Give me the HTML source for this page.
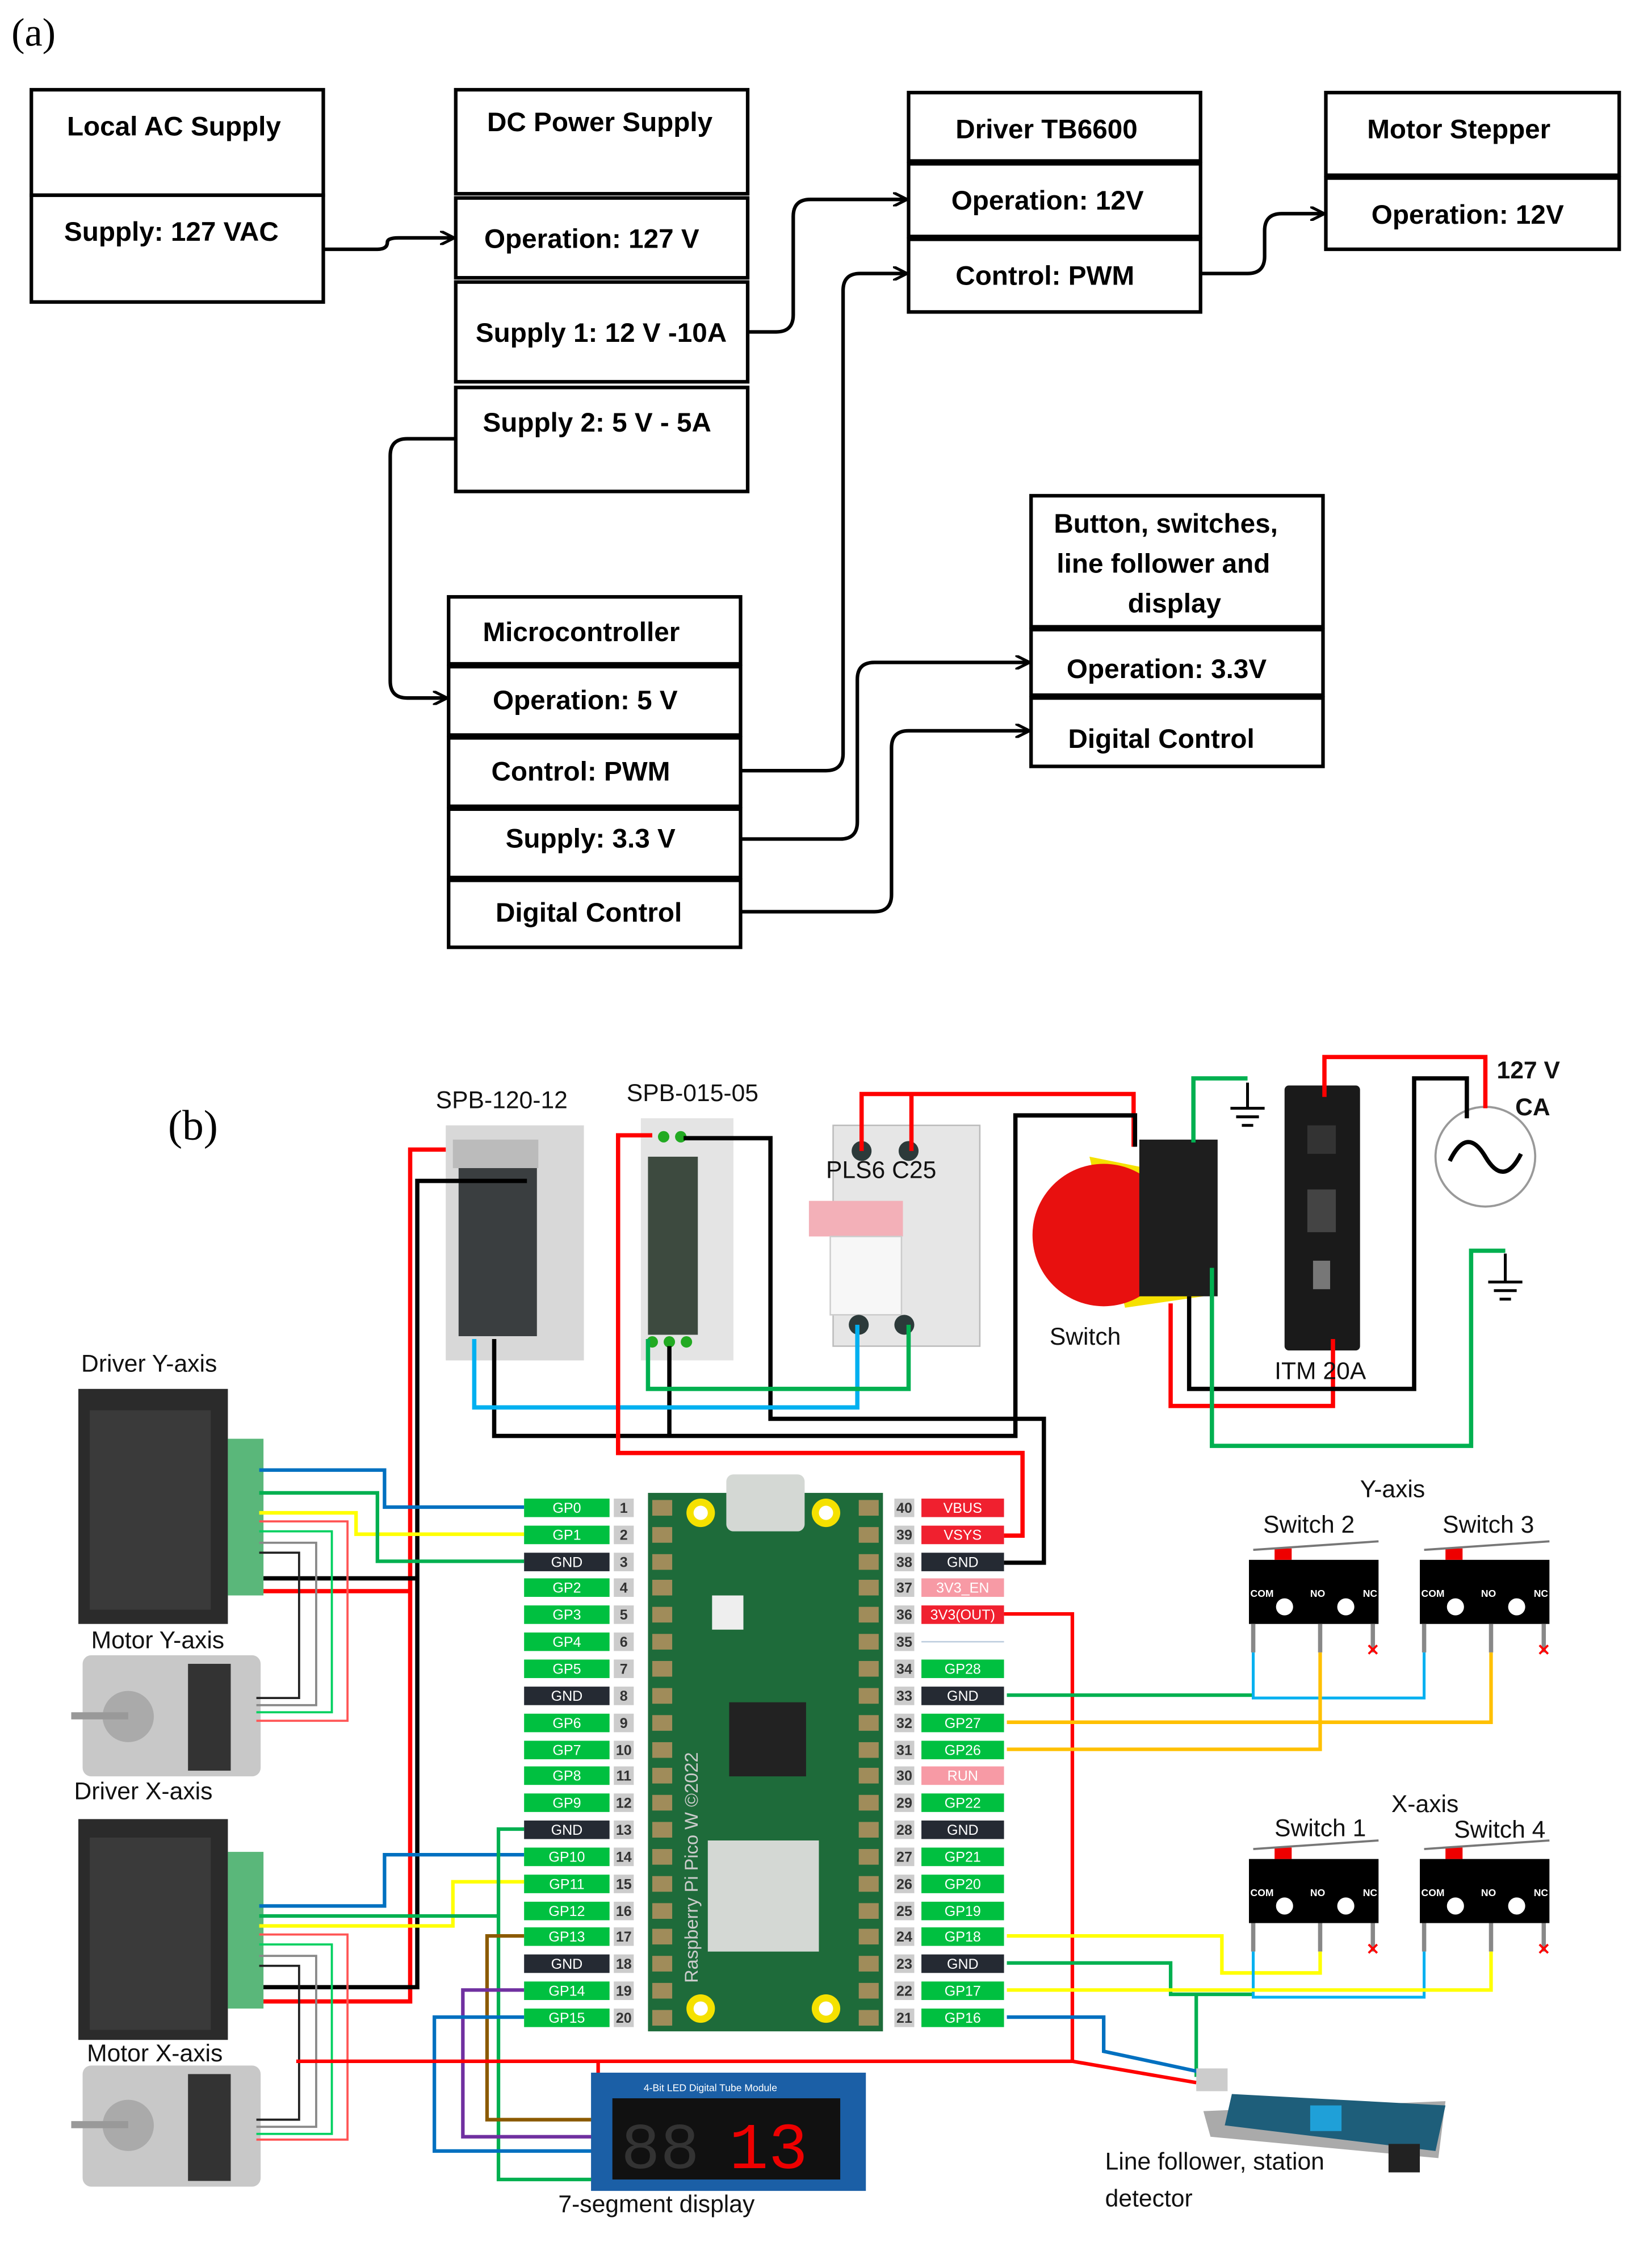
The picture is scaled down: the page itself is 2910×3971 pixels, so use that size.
<!DOCTYPE html>
<html><head><meta charset="utf-8"><style>
html,body{margin:0;padding:0;background:#fff}
svg{display:block}
.b{font-family:"Liberation Sans",sans-serif;font-weight:bold;font-size:19px;fill:#000}
.l{font-family:"Liberation Sans",sans-serif;font-size:17px;fill:#111}
.p{font-family:"Liberation Sans",sans-serif;font-size:10px;fill:#fff;text-anchor:middle}
.n{font-family:"Liberation Sans",sans-serif;font-size:10px;font-weight:bold;fill:#333;text-anchor:middle}
</style></head><body>
<svg width="2910" height="3971" viewBox="0 0 1160 1583" xmlns="http://www.w3.org/2000/svg">
<defs>
<marker id="ar" markerWidth="10" markerHeight="10" refX="9" refY="5" orient="auto" markerUnits="userSpaceOnUse"><path d="M0,0 L10,5 L0,10" fill="none" stroke="#000" stroke-width="2"/></marker>
</defs>
<text x="8" y="32" font-family="Liberation Serif,serif" font-size="28">(a)</text>
<g fill="none" stroke="#000" stroke-width="2.5">
<rect x="22" y="63" width="205" height="74"/><rect x="22" y="137" width="205" height="75"/>
<rect x="320" y="63" width="205" height="73"/><rect x="320" y="139" width="205" height="56"/><rect x="320" y="198" width="205" height="70"/><rect x="320" y="272" width="205" height="73"/>
<rect x="638" y="65" width="205" height="48"/><rect x="638" y="115" width="205" height="51"/><rect x="638" y="168" width="205" height="51"/>
<rect x="931" y="65" width="206" height="58"/><rect x="931" y="125" width="206" height="50"/>
<rect x="724" y="348" width="205" height="92"/><rect x="724" y="442" width="205" height="46"/><rect x="724" y="490" width="205" height="48"/>
<rect x="315" y="419" width="205" height="47"/><rect x="315" y="468" width="205" height="48"/><rect x="315" y="518" width="205" height="48"/><rect x="315" y="568" width="205" height="48"/><rect x="315" y="618" width="205" height="47"/>
</g>
<g fill="none" stroke="#000" stroke-width="2.5" marker-end="url(#ar)">
<path d="M227,175 L265,175 Q272,175 272,170 Q272,167 280,167 L318,167"/>
<path d="M525,233 L545,233 Q557,233 557,221 L557,152 Q557,140 569,140 L636,140"/>
<path d="M520,541 L580,541 Q592,541 592,529 L592,204 Q592,192 604,192 L636,192"/>
<path d="M843,192 L876,192 Q888,192 888,180 L888,162 Q888,150 900,150 L929,150"/>
<path d="M320,308 L286,308 Q274,308 274,320 L274,478 Q274,490 286,490 L313,490"/>
<path d="M520,589 L590,589 Q602,589 602,577 L602,477 Q602,465 614,465 L722,465"/>
<path d="M520,640 L614,640 Q626,640 626,628 L626,525 Q626,513 638,513 L722,513"/>
</g>
<g class="b">
<text x="47" y="95">Local AC Supply</text><text x="45" y="169">Supply: 127 VAC</text>
<text x="342" y="92">DC Power Supply</text><text x="340" y="174">Operation: 127 V</text><text x="334" y="240">Supply 1: 12 V -10A</text><text x="339" y="303">Supply 2: 5 V - 5A</text>
<text x="671" y="97">Driver TB6600</text><text x="668" y="147">Operation: 12V</text><text x="671" y="200">Control: PWM</text>
<text x="960" y="97">Motor Stepper</text><text x="963" y="157">Operation: 12V</text>
<text x="740" y="374">Button, switches,</text><text x="742" y="402">line follower and</text><text x="792" y="430">display</text>
<text x="749" y="476">Operation: 3.3V</text><text x="750" y="525">Digital Control</text>
<text x="339" y="450">Microcontroller</text><text x="346" y="498">Operation: 5 V</text><text x="345" y="548">Control: PWM</text><text x="355" y="595">Supply: 3.3 V</text><text x="348" y="647">Digital Control</text>
</g>

<!-- PART B -->
<text x="118" y="800" font-family="Liberation Serif,serif" font-size="30">(b)</text>

<!-- power supplies -->
<rect x="313" y="790" width="97" height="165" fill="#d8d8d8"/><rect x="322" y="818" width="55" height="120" fill="#3a3e40"/><rect x="318" y="800" width="60" height="20" fill="#bbb"/>
<rect x="450" y="785" width="65" height="170" fill="#e4e4e4"/><rect x="455" y="812" width="35" height="125" fill="#3d4a3f"/>
<circle cx="466" cy="798" r="4" fill="#2a2" /><circle cx="478" cy="798" r="4" fill="#2a2"/>
<circle cx="458" cy="942" r="4" fill="#2a2"/><circle cx="470" cy="942" r="4" fill="#2a2"/><circle cx="482" cy="942" r="4" fill="#2a2"/>
<!-- PLS6 -->
<rect x="585" y="790" width="103" height="155" fill="#e6e6e6" stroke="#bbb"/>
<rect x="568" y="843" width="66" height="25" fill="#f3b0b8"/><rect x="583" y="868" width="50" height="55" fill="#f7f7f7" stroke="#ccc"/>
<circle cx="605" cy="808" r="7" fill="#2c3a3a"/><circle cx="638" cy="808" r="7" fill="#2c3a3a"/><circle cx="603" cy="930" r="7" fill="#2c3a3a"/><circle cx="635" cy="930" r="7" fill="#2c3a3a"/>
<!-- rotary switch -->
<path d="M765,812 L830,825 L845,910 L790,918 Z" fill="#f5e100"/>
<circle cx="775" cy="867" r="50" fill="#e8100f"/>
<rect x="800" y="800" width="55" height="110" fill="#1e1e1e"/>
<!-- ITM -->
<rect x="902" y="762" width="53" height="186" fill="#1a1a1a" rx="3"/><rect x="918" y="790" width="20" height="20" fill="#333"/><rect x="918" y="835" width="20" height="30" fill="#444"/>
<rect x="922" y="885" width="12" height="20" fill="#777"/>
<!-- AC source -->
<circle cx="1043" cy="812" r="35" fill="#fff" stroke="#999" stroke-width="1.5"/>
<path d="M1018,815 Q1030,790 1043,812 Q1056,834 1068,810" fill="none" stroke="#000" stroke-width="3"/>
<g stroke="#000" stroke-width="2">
<path d="M876,760 L876,778 M864,778 L888,778 M868,784 L884,784 M872,790 L880,790"/>
<path d="M1057,880 L1057,900 M1045,900 L1069,900 M1049,906 L1065,906 M1053,912 L1061,912"/>
</g>
<!-- top wires -->
<g fill="none" stroke-width="3">
<path stroke="#f00" d="M313,807 L288,807 L288,1405 L182,1405"/>
<path stroke="#f00" d="M288,1117 L182,1117"/>
<path stroke="#000" d="M370,829 L293,829 L293,1395 L182,1395"/>
<path stroke="#000" d="M293,1108 L182,1108"/>
<path stroke="#f00" d="M605,808 L605,768 L796,768 L796,805 M640,808 L640,768"/>
<path stroke="#000" d="M347,940 L347,1008 L713,1008 L713,783 L797,783 L797,805 M470,945 L470,1008"/>
<path stroke="#000" d="M480,799 L541,799 L541,996 L733,996 L733,1097 L705,1097"/>
<path stroke="#00b0f0" d="M333,940 L333,988 L602,988 L602,930"/>
<path stroke="#00b050" d="M455,940 L455,975 L638,975 L638,930"/>
<path stroke="#f00" d="M458,797 L434,797 L434,1020 L718,1020 L718,1078 L705,1078"/>
<path stroke="#f00" d="M822,915 L822,987 L936,987 L936,940"/>
<path stroke="#000" d="M835,910 L835,975 L993,975 L993,757 L1030,757 L1030,785"/>
<path stroke="#00b050" d="M851,890 L851,1015 L1033,1015 L1033,878 L1057,878"/>
<path stroke="#00b050" d="M838,802 L838,757 L876,757"/>
<path stroke="#f00" d="M930,770 L930,742 L1043,742 L1043,778"/>
</g>

<!-- drivers -->
<g>
<rect x="55" y="975" width="105" height="165" fill="#2b2b2b"/><rect x="63" y="990" width="85" height="140" fill="#3a3a3a"/>
<rect x="160" y="1010" width="25" height="110" fill="#5ab77a"/>
<rect x="55" y="1277" width="105" height="155" fill="#2b2b2b"/><rect x="63" y="1290" width="85" height="135" fill="#3a3a3a"/>
<rect x="160" y="1300" width="25" height="110" fill="#5ab77a"/>
<rect x="58" y="1162" width="125" height="85" fill="#c8c8c8" rx="6"/><rect x="132" y="1168" width="30" height="75" fill="#333"/><circle cx="90" cy="1205" r="18" fill="#aaa"/><rect x="50" y="1202" width="40" height="5" fill="#999"/>
<rect x="58" y="1450" width="125" height="85" fill="#c8c8c8" rx="6"/><rect x="132" y="1456" width="30" height="75" fill="#333"/><circle cx="90" cy="1492" r="18" fill="#aaa"/><rect x="50" y="1489" width="40" height="5" fill="#999"/>
</g>
<!-- driver & motor wires -->
<g fill="none" stroke-width="2.5">
<path stroke="#0070c0" d="M182,1032 L270,1032 L270,1058 L368,1058"/>
<path stroke="#ff0" d="M182,1062 L250,1062 L250,1077 L368,1077"/>
<path stroke="#00b050" d="M182,1048 L265,1048 L265,1096 L368,1096"/>
<path stroke="#0070c0" d="M182,1338 L270,1338 L270,1302 L368,1302"/>
<path stroke="#ff0" d="M182,1352 L318,1352 L318,1321 L368,1321"/>
<path stroke="#00b050" d="M182,1345 L350,1345"/>
<path stroke="#00b050" d="M368,1284 L350,1284 L350,1530 L420,1530"/>
<path stroke="#8b5a00" d="M368,1359 L342,1359 L342,1488 L420,1488"/>
<path stroke="#7030a0" d="M368,1397 L325,1397 L325,1500 L420,1500"/>
<path stroke="#0070c0" d="M368,1416 L305,1416 L305,1510 L420,1510"/>
</g>
<g fill="none" stroke-width="1.5">
<path stroke="#222" d="M182,1090 L210,1090 L210,1192 L180,1192 M182,1380 L210,1380 L210,1488 L180,1488"/>
<path stroke="#888" d="M182,1083 L222,1083 L222,1197 L180,1197 M182,1373 L222,1373 L222,1493 L180,1493"/>
<path stroke="#00d060" d="M182,1075 L233,1075 L233,1202 L180,1202 M182,1365 L233,1365 L233,1498 L180,1498"/>
<path stroke="#f55" d="M182,1068 L244,1068 L244,1208 L180,1208 M182,1358 L244,1358 L244,1502 L180,1502"/>
</g>

<!-- Pico -->
<rect x="455" y="1048" width="165" height="378" fill="#1e6b3a"/>
<rect x="510" y="1035" width="55" height="40" fill="#d4d8d4" rx="5"/>
<circle cx="492" cy="1062" r="10" fill="#f5e100"/><circle cx="492" cy="1062" r="5" fill="#fff"/>
<circle cx="580" cy="1062" r="10" fill="#f5e100"/><circle cx="580" cy="1062" r="5" fill="#fff"/>
<circle cx="492" cy="1410" r="10" fill="#f5e100"/><circle cx="492" cy="1410" r="5" fill="#fff"/>
<circle cx="580" cy="1410" r="10" fill="#f5e100"/><circle cx="580" cy="1410" r="5" fill="#fff"/>
<rect x="500" y="1120" width="22" height="24" fill="#eee"/>
<rect x="512" y="1195" width="54" height="52" fill="#222"/>
<rect x="497" y="1292" width="78" height="78" fill="#d4d8d4"/>
<text x="0" y="0" transform="translate(490,1392) rotate(-90)" font-family="Liberation Sans,sans-serif" font-size="13" fill="#ccc">Raspberry Pi Pico W ©2022</text>
<g font-family="Liberation Sans,sans-serif">
<g>
<rect x="368" y="1052" width="60" height="13" fill="#00c040"/><text class="p" x="398" y="1062">GP0</text>
<rect x="368" y="1071" width="60" height="13" fill="#00c040"/><text class="p" x="398" y="1081">GP1</text>
<rect x="368" y="1090" width="60" height="13" fill="#252a33"/><text class="p" x="398" y="1100">GND</text>
<rect x="368" y="1108" width="60" height="13" fill="#00c040"/><text class="p" x="398" y="1118">GP2</text>
<rect x="368" y="1127" width="60" height="13" fill="#00c040"/><text class="p" x="398" y="1137">GP3</text>
<rect x="368" y="1146" width="60" height="13" fill="#00c040"/><text class="p" x="398" y="1156">GP4</text>
<rect x="368" y="1165" width="60" height="13" fill="#00c040"/><text class="p" x="398" y="1175">GP5</text>
<rect x="368" y="1184" width="60" height="13" fill="#252a33"/><text class="p" x="398" y="1194">GND</text>
<rect x="368" y="1203" width="60" height="13" fill="#00c040"/><text class="p" x="398" y="1213">GP6</text>
<rect x="368" y="1222" width="60" height="13" fill="#00c040"/><text class="p" x="398" y="1232">GP7</text>
<rect x="368" y="1240" width="60" height="13" fill="#00c040"/><text class="p" x="398" y="1250">GP8</text>
<rect x="368" y="1259" width="60" height="13" fill="#00c040"/><text class="p" x="398" y="1269">GP9</text>
<rect x="368" y="1278" width="60" height="13" fill="#252a33"/><text class="p" x="398" y="1288">GND</text>
<rect x="368" y="1297" width="60" height="13" fill="#00c040"/><text class="p" x="398" y="1307">GP10</text>
<rect x="368" y="1316" width="60" height="13" fill="#00c040"/><text class="p" x="398" y="1326">GP11</text>
<rect x="368" y="1335" width="60" height="13" fill="#00c040"/><text class="p" x="398" y="1345">GP12</text>
<rect x="368" y="1353" width="60" height="13" fill="#00c040"/><text class="p" x="398" y="1363">GP13</text>
<rect x="368" y="1372" width="60" height="13" fill="#252a33"/><text class="p" x="398" y="1382">GND</text>
<rect x="368" y="1391" width="60" height="13" fill="#00c040"/><text class="p" x="398" y="1401">GP14</text>
<rect x="368" y="1410" width="60" height="13" fill="#00c040"/><text class="p" x="398" y="1420">GP15</text>
</g>
<g fill="#ccc">
<rect x="431" y="1052" width="14" height="13"/><rect x="431" y="1071" width="14" height="13"/><rect x="431" y="1090" width="14" height="13"/><rect x="431" y="1108" width="14" height="13"/><rect x="431" y="1127" width="14" height="13"/><rect x="431" y="1146" width="14" height="13"/><rect x="431" y="1165" width="14" height="13"/><rect x="431" y="1184" width="14" height="13"/><rect x="431" y="1203" width="14" height="13"/><rect x="431" y="1222" width="14" height="13"/><rect x="431" y="1240" width="14" height="13"/><rect x="431" y="1259" width="14" height="13"/><rect x="431" y="1278" width="14" height="13"/><rect x="431" y="1297" width="14" height="13"/><rect x="431" y="1316" width="14" height="13"/><rect x="431" y="1335" width="14" height="13"/><rect x="431" y="1353" width="14" height="13"/><rect x="431" y="1372" width="14" height="13"/><rect x="431" y="1391" width="14" height="13"/><rect x="431" y="1410" width="14" height="13"/>
<rect x="628" y="1052" width="14" height="13"/><rect x="628" y="1071" width="14" height="13"/><rect x="628" y="1090" width="14" height="13"/><rect x="628" y="1108" width="14" height="13"/><rect x="628" y="1127" width="14" height="13"/><rect x="628" y="1146" width="14" height="13"/><rect x="628" y="1165" width="14" height="13"/><rect x="628" y="1184" width="14" height="13"/><rect x="628" y="1203" width="14" height="13"/><rect x="628" y="1222" width="14" height="13"/><rect x="628" y="1240" width="14" height="13"/><rect x="628" y="1259" width="14" height="13"/><rect x="628" y="1278" width="14" height="13"/><rect x="628" y="1297" width="14" height="13"/><rect x="628" y="1316" width="14" height="13"/><rect x="628" y="1335" width="14" height="13"/><rect x="628" y="1353" width="14" height="13"/><rect x="628" y="1372" width="14" height="13"/><rect x="628" y="1391" width="14" height="13"/><rect x="628" y="1410" width="14" height="13"/>
</g>
<g class="n">
<text x="438" y="1062">1</text><text x="438" y="1081">2</text><text x="438" y="1100">3</text><text x="438" y="1118">4</text><text x="438" y="1137">5</text><text x="438" y="1156">6</text><text x="438" y="1175">7</text><text x="438" y="1194">8</text><text x="438" y="1213">9</text><text x="438" y="1232">10</text><text x="438" y="1250">11</text><text x="438" y="1269">12</text><text x="438" y="1288">13</text><text x="438" y="1307">14</text><text x="438" y="1326">15</text><text x="438" y="1345">16</text><text x="438" y="1363">17</text><text x="438" y="1382">18</text><text x="438" y="1401">19</text><text x="438" y="1420">20</text>
<text x="635" y="1062">40</text><text x="635" y="1081">39</text><text x="635" y="1100">38</text><text x="635" y="1118">37</text><text x="635" y="1137">36</text><text x="635" y="1156">35</text><text x="635" y="1175">34</text><text x="635" y="1194">33</text><text x="635" y="1213">32</text><text x="635" y="1232">31</text><text x="635" y="1250">30</text><text x="635" y="1269">29</text><text x="635" y="1288">28</text><text x="635" y="1307">27</text><text x="635" y="1326">26</text><text x="635" y="1345">25</text><text x="635" y="1363">24</text><text x="635" y="1382">23</text><text x="635" y="1401">22</text><text x="635" y="1420">21</text>
</g>
<g>
<rect x="647" y="1052" width="58" height="13" fill="#f0202f"/><text class="p" x="676" y="1062">VBUS</text>
<rect x="647" y="1071" width="58" height="13" fill="#f0202f"/><text class="p" x="676" y="1081">VSYS</text>
<rect x="647" y="1090" width="58" height="13" fill="#252a33"/><text class="p" x="676" y="1100">GND</text>
<rect x="647" y="1108" width="58" height="13" fill="#f79aa5"/><text class="p" x="676" y="1118">3V3_EN</text>
<rect x="647" y="1127" width="58" height="13" fill="#f0202f"/><text class="p" x="676" y="1137">3V3(OUT)</text>
<rect x="647" y="1152" width="58" height="1" fill="#bcd"/>
<rect x="647" y="1165" width="58" height="13" fill="#00c040"/><text class="p" x="676" y="1175">GP28</text>
<rect x="647" y="1184" width="58" height="13" fill="#252a33"/><text class="p" x="676" y="1194">GND</text>
<rect x="647" y="1203" width="58" height="13" fill="#00c040"/><text class="p" x="676" y="1213">GP27</text>
<rect x="647" y="1222" width="58" height="13" fill="#00c040"/><text class="p" x="676" y="1232">GP26</text>
<rect x="647" y="1240" width="58" height="13" fill="#f79aa5"/><text class="p" x="676" y="1250">RUN</text>
<rect x="647" y="1259" width="58" height="13" fill="#00c040"/><text class="p" x="676" y="1269">GP22</text>
<rect x="647" y="1278" width="58" height="13" fill="#252a33"/><text class="p" x="676" y="1288">GND</text>
<rect x="647" y="1297" width="58" height="13" fill="#00c040"/><text class="p" x="676" y="1307">GP21</text>
<rect x="647" y="1316" width="58" height="13" fill="#00c040"/><text class="p" x="676" y="1326">GP20</text>
<rect x="647" y="1335" width="58" height="13" fill="#00c040"/><text class="p" x="676" y="1345">GP19</text>
<rect x="647" y="1353" width="58" height="13" fill="#00c040"/><text class="p" x="676" y="1363">GP18</text>
<rect x="647" y="1372" width="58" height="13" fill="#252a33"/><text class="p" x="676" y="1382">GND</text>
<rect x="647" y="1391" width="58" height="13" fill="#00c040"/><text class="p" x="676" y="1401">GP17</text>
<rect x="647" y="1410" width="58" height="13" fill="#00c040"/><text class="p" x="676" y="1420">GP16</text>
</g>
</g>
<g fill="#a08c5a">
<rect x="458" y="1053" width="14" height="11"/><rect x="458" y="1072" width="14" height="11"/><rect x="458" y="1091" width="14" height="11"/><rect x="458" y="1109" width="14" height="11"/><rect x="458" y="1128" width="14" height="11"/><rect x="458" y="1147" width="14" height="11"/><rect x="458" y="1166" width="14" height="11"/><rect x="458" y="1185" width="14" height="11"/><rect x="458" y="1204" width="14" height="11"/><rect x="458" y="1223" width="14" height="11"/><rect x="458" y="1241" width="14" height="11"/><rect x="458" y="1260" width="14" height="11"/><rect x="458" y="1279" width="14" height="11"/><rect x="458" y="1298" width="14" height="11"/><rect x="458" y="1317" width="14" height="11"/><rect x="458" y="1336" width="14" height="11"/><rect x="458" y="1354" width="14" height="11"/><rect x="458" y="1373" width="14" height="11"/><rect x="458" y="1392" width="14" height="11"/><rect x="458" y="1411" width="14" height="11"/>
<rect x="603" y="1053" width="14" height="11"/><rect x="603" y="1072" width="14" height="11"/><rect x="603" y="1091" width="14" height="11"/><rect x="603" y="1109" width="14" height="11"/><rect x="603" y="1128" width="14" height="11"/><rect x="603" y="1147" width="14" height="11"/><rect x="603" y="1166" width="14" height="11"/><rect x="603" y="1185" width="14" height="11"/><rect x="603" y="1204" width="14" height="11"/><rect x="603" y="1223" width="14" height="11"/><rect x="603" y="1241" width="14" height="11"/><rect x="603" y="1260" width="14" height="11"/><rect x="603" y="1279" width="14" height="11"/><rect x="603" y="1298" width="14" height="11"/><rect x="603" y="1317" width="14" height="11"/><rect x="603" y="1336" width="14" height="11"/><rect x="603" y="1354" width="14" height="11"/><rect x="603" y="1373" width="14" height="11"/><rect x="603" y="1392" width="14" height="11"/><rect x="603" y="1411" width="14" height="11"/>
</g>

<!-- micro switches -->
<g>
<rect x="877" y="1095" width="91" height="45" fill="#000"/><rect x="895" y="1087" width="12" height="8" fill="#e00"/>
<rect x="997" y="1095" width="91" height="45" fill="#000"/><rect x="1015" y="1087" width="12" height="8" fill="#e00"/>
<rect x="877" y="1305" width="91" height="45" fill="#000"/><rect x="895" y="1297" width="12" height="8" fill="#e00"/>
<rect x="997" y="1305" width="91" height="45" fill="#000"/><rect x="1015" y="1297" width="12" height="8" fill="#e00"/>
<g stroke="#777" stroke-width="1.5"><path d="M880,1088 L968,1082 M1000,1088 L1088,1082 M880,1298 L968,1292 M1000,1298 L1088,1292"/></g>
<g stroke="#888" stroke-width="3">
<path d="M880,1140 V1160 M927,1140 V1160 M964,1140 V1160 M1000,1140 V1160 M1047,1140 V1160 M1084,1140 V1160"/>
<path d="M880,1350 V1370 M927,1350 V1370 M964,1350 V1370 M1000,1350 V1370 M1047,1350 V1370 M1084,1350 V1370"/>
</g>
<g fill="#fff"><circle cx="902" cy="1128" r="6"/><circle cx="945" cy="1128" r="6"/><circle cx="1022" cy="1128" r="6"/><circle cx="1065" cy="1128" r="6"/><circle cx="902" cy="1338" r="6"/><circle cx="945" cy="1338" r="6"/><circle cx="1022" cy="1338" r="6"/><circle cx="1065" cy="1338" r="6"/></g>
<g font-family="Liberation Sans,sans-serif" font-size="7" font-weight="bold" fill="#fff">
<text x="878" y="1121">COM</text><text x="920" y="1121">NO</text><text x="957" y="1121">NC</text><text x="998" y="1121">COM</text><text x="1040" y="1121">NO</text><text x="1077" y="1121">NC</text>
<text x="878" y="1331">COM</text><text x="920" y="1331">NO</text><text x="957" y="1331">NC</text><text x="998" y="1331">COM</text><text x="1040" y="1331">NO</text><text x="1077" y="1331">NC</text>
</g>
</g>
<!-- right wires -->
<g fill="none" stroke-width="2.5">
<path stroke="#f00" d="M705,1133 L753,1133 L753,1447 L208,1447 M753,1447 L840,1462 M420,1447 L420,1465"/>
<path stroke="#00b050" d="M707,1190 L880,1190"/>
<path stroke="#00b0f0" stroke-width="2" d="M880,1160 L880,1192 L1000,1192 L1000,1160"/>
<path stroke="#ffc000" d="M707,1209 L1047,1209 L1047,1160"/>
<path stroke="#ffc000" d="M707,1228 L927,1228 L927,1160"/>
<path stroke="#ff0" d="M707,1359 L858,1359 L858,1385 L927,1385 L927,1370"/>
<path stroke="#00b050" d="M707,1378 L822,1378 L822,1400 L880,1400 M840,1400 L840,1458"/>
<path stroke="#00b0f0" stroke-width="2" d="M880,1370 L880,1402 L1000,1402 L1000,1370"/>
<path stroke="#ff0" d="M707,1397 L1047,1397 L1047,1370"/>
<path stroke="#0070c0" d="M707,1416 L775,1416 L775,1440 L845,1455"/>
</g>
<g stroke="#f00" stroke-width="1.5"><path d="M961,1155 l6,6 m0,-6 l-6,6 M1081,1155 l6,6 m0,-6 l-6,6 M961,1365 l6,6 m0,-6 l-6,6 M1081,1365 l6,6 m0,-6 l-6,6"/></g>

<!-- 7 seg -->
<rect x="415" y="1455" width="193" height="83" fill="#1b5fa6"/>
<rect x="430" y="1473" width="160" height="57" fill="#111"/>
<text x="452" y="1468" font-family="Liberation Sans,sans-serif" font-size="7" fill="#fff">4-Bit LED Digital Tube Module</text>
<text x="436" y="1522" font-family="Liberation Mono,monospace" font-size="46" fill="#333">88</text>
<text x="512" y="1522" font-family="Liberation Mono,monospace" font-size="46" fill="#e00">13</text>

<!-- line follower -->
<path d="M845,1482 L1015,1475 L1010,1515 L850,1500 Z" fill="#aaa"/>
<path d="M865,1470 L1015,1478 L1008,1510 L860,1492 Z" fill="#1e5e7a"/>
<rect x="920" y="1478" width="22" height="18" fill="#1fa0d8"/>
<rect x="840" y="1452" width="22" height="16" fill="#ccc"/>
<rect x="975" y="1505" width="22" height="20" fill="#222"/>

<g class="l">
<text x="306" y="778">SPB-120-12</text><text x="440" y="773">SPB-015-05</text><text x="580" y="827">PLS6 C25</text>
<text x="737" y="944">Switch</text><text x="895" y="968">ITM 20A</text>
<text x="1051" y="757" font-weight="bold">127 V</text><text x="1064" y="783" font-weight="bold">CA</text>
<text x="57" y="963">Driver Y-axis</text><text x="64" y="1157">Motor Y-axis</text><text x="52" y="1263">Driver X-axis</text><text x="61" y="1447">Motor X-axis</text>
<text x="955" y="1051">Y-axis</text><text x="887" y="1076">Switch 2</text><text x="1013" y="1076">Switch 3</text>
<text x="977" y="1272">X-axis</text><text x="895" y="1289">Switch 1</text><text x="1021" y="1290">Switch 4</text>
<text x="776" y="1523">Line follower, station</text><text x="776" y="1549">detector</text>
<text x="392" y="1553">7-segment display</text>
</g>
</svg>
</body></html>
